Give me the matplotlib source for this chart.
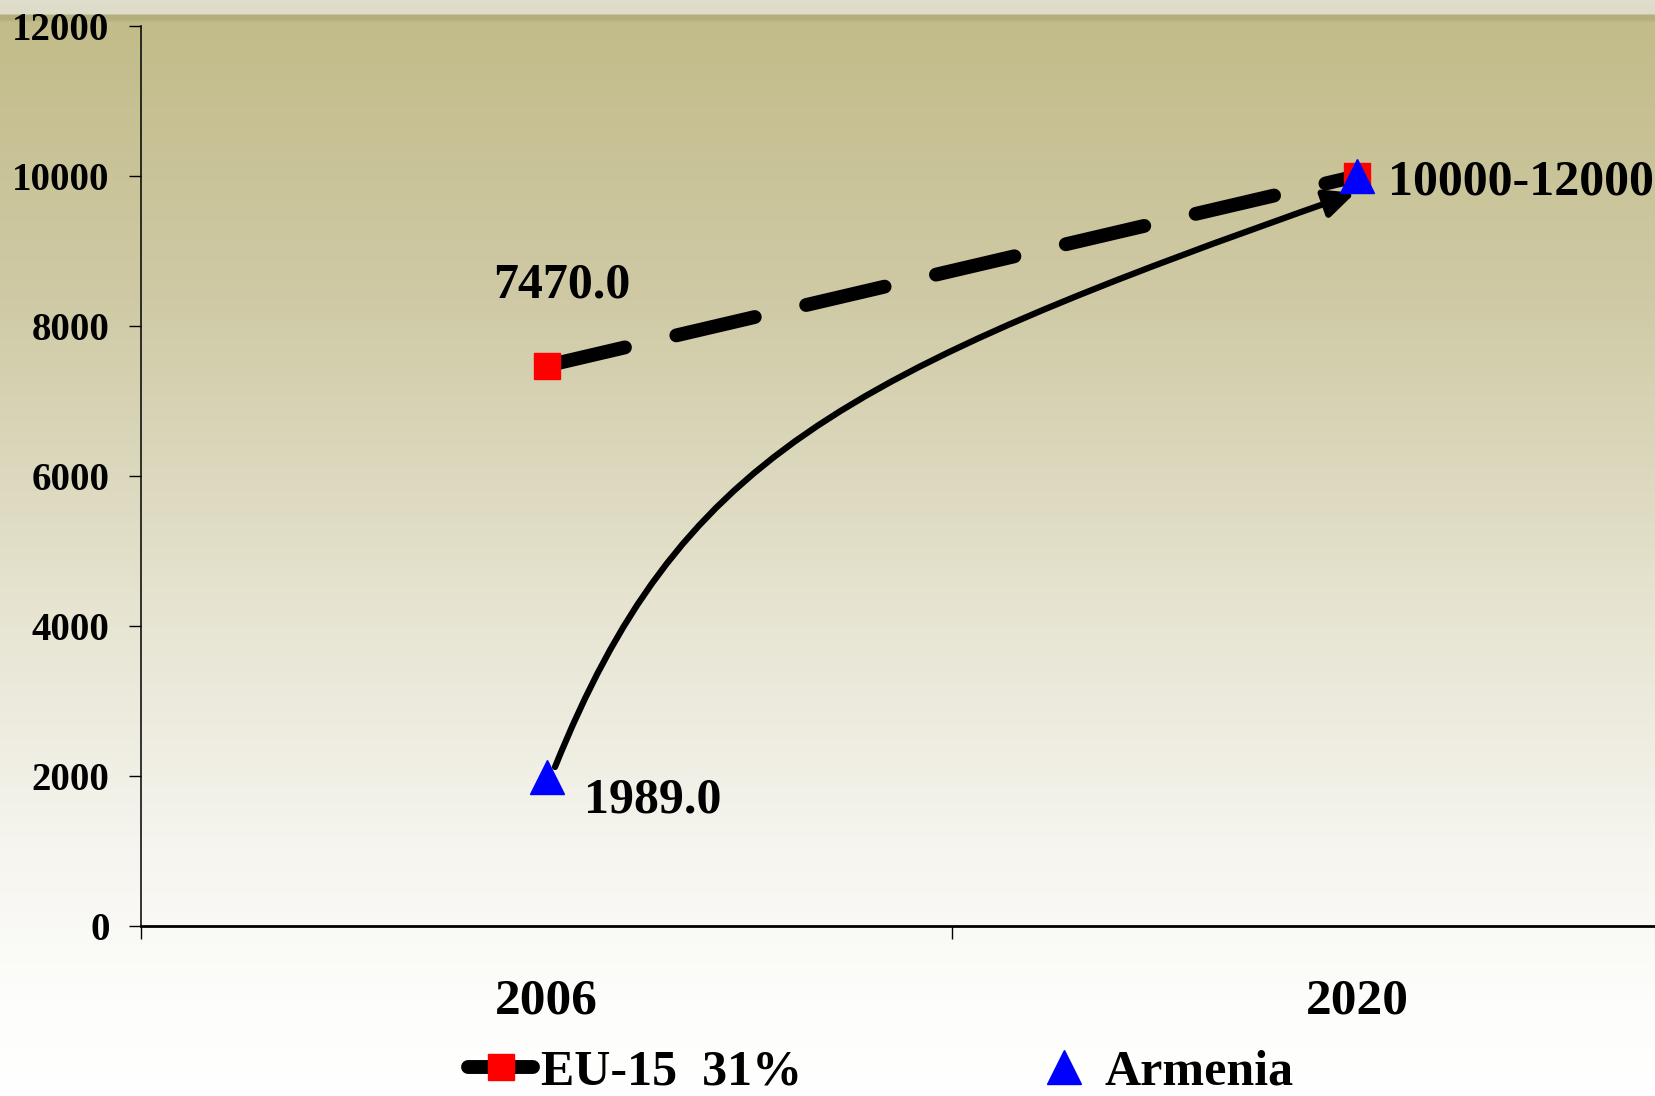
import numpy as np
import matplotlib
matplotlib.use("Agg")
import matplotlib.pyplot as plt
from matplotlib.patches import FancyArrowPatch
from matplotlib.path import Path
from matplotlib.colors import to_rgb

# Data
years = ["2006", "2020"]
eu15 = [7470.0, 10000.0]
armenia = [1989.0, 10000.0]
eu_label = "EU-15  31%"
arm_label = "Armenia"
target_text = "10000-12000"
yticks = [0, 2000, 4000, 6000, 8000, 10000, 12000]

plt.rcParams['font.family'] = ['Liberation Serif', 'DejaVu Serif']
plt.rcParams['font.weight'] = 'bold'

W, H = 1656, 1096
fig = plt.figure(figsize=(W / 100, H / 100), dpi=100)

# Slide-style vertical gradient background
stops = [
    (0, "#DFDDCB"), (13, "#DEDCC8"), (15, "#B3AF7D"), (19, "#B3AF7D"),
    (22, "#C2BC8A"), (300, "#CFCAA5"), (600, "#E6E3D0"), (850, "#F6F5EF"),
    (1000, "#FDFDFB"), (H, "#FFFFFF"),
]
rows = np.arange(H)
pos = [s[0] for s in stops]
cols = np.array([to_rgb(s[1]) for s in stops])
grad = np.stack([np.interp(rows, pos, cols[:, k]) for k in range(3)], axis=1)
bg = fig.add_axes([0, 0, 1, 1], zorder=-10)
bg.imshow(grad[:, None, :], aspect='auto', extent=[0, 1, 0, 1], origin='upper')
bg.set_axis_off()

# Main axes (category axis runs past the right edge of the figure)
ax = fig.add_axes([141 / W, 170 / H, 1622 / W, 900 / H])
ax.set_facecolor('none')
x = np.arange(len(years)) + 0.5

ax.plot(x, eu15, color='black', lw=10, dashes=(5.8, 3.8),
        dash_capstyle='round', solid_capstyle='round',
        marker='s', ms=19, mfc='red', mec='red', label=eu_label, zorder=3)
ax.plot(x, armenia, ls='none', marker='^', ms=24, mfc='blue', mec='blue',
        label=arm_label, zorder=5)

# Curved growth arrow for Armenia: cubic Bezier from just beside the 2006
# marker to the base of the 2020 marker (control points as fractions of the span)
x0, x1 = x[0], x[1]
y0, y1 = armenia[0], armenia[1]
dx, dy = x1 - x0, y1 - y0
bez = np.array([
    [x0 + 0.0105 * dx, y0 + 0.0164 * dy],
    [x0 + 0.163 * dx, y0 + 0.526 * dy],
    [x0 + 0.357 * dx, y0 + 0.669 * dy],
    [x1 - 0.003 * dx, y1 - 0.0283 * dy],
])
arrow_path = Path(bez, [Path.MOVETO, Path.CURVE4, Path.CURVE4, Path.CURVE4])
arrow = FancyArrowPatch(
    path=arrow_path,
    arrowstyle='-|>,head_length=0.9,head_width=0.42', mutation_scale=20,
    lw=4.5, color='black', zorder=4)
ax.add_patch(arrow)

ax.annotate(f"{eu15[0]:.1f}", xy=(x[0], eu15[0]), xytext=(11, 58),
            textcoords='offset points', ha='center', va='center', fontsize=36)
ax.annotate(f"{armenia[0]:.1f}", xy=(x[0], armenia[0]), xytext=(27, -17),
            textcoords='offset points', ha='left', va='center', fontsize=36)
ax.annotate(target_text, xy=(x[1], eu15[1]), xytext=(22, -5),
            textcoords='offset points', ha='left', va='center', fontsize=36)

ax.set_xlim(0, 2)
ax.set_ylim(0, 12000)
ax.set_xticks([0, 1, 2])
ax.set_xticklabels([])
ax.set_xticks(x, minor=True)
ax.set_xticklabels(years, minor=True)
ax.tick_params(axis='x', which='major', direction='out', length=9.5, width=1)
ax.tick_params(axis='x', which='minor', length=0, pad=38, labelsize=37)
ax.set_yticks(yticks)
ax.set_yticklabels([str(v) for v in yticks])
ax.tick_params(axis='y', direction='out', length=8.6, width=1, pad=14,
               labelsize=28)
for side in ('top', 'right'):
    ax.spines[side].set_visible(False)
ax.spines['left'].set_linewidth(1.1)
ax.spines['bottom'].set_linewidth(2)

handles, labels = ax.get_legend_handles_labels()
fig.legend(handles, labels, loc='center', bbox_to_anchor=(0.532, 0.021),
           ncol=2, frameon=False, fontsize=36, handlelength=1.3,
           handletextpad=0.15, columnspacing=4.6, borderpad=0,
           borderaxespad=0)

fig.savefig("out.png", dpi=100)
